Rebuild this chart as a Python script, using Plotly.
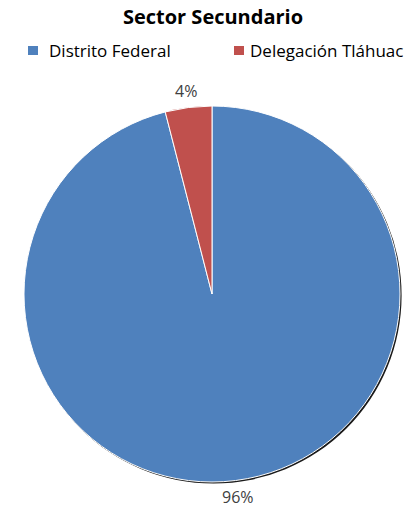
import math
import plotly.graph_objects as go

# Sector secundario: participación por entidad
labels = ["Distrito Federal", "Delegación Tláhuac"]
values = [96, 4]
colors = ["#4F81BD", "#C0504D"]

W, H = 410, 512
FONT = "Open Sans, Lato, sans-serif"

# pie box in pixels (left, top, right, bottom)
PX0, PY0, PX1, PY1 = 24, 106, 400, 482
CX, CY = (PX0 + PX1) / 2, (PY0 + PY1) / 2
LABEL_DIST = 205  # distance of the percentage labels from the centre, px

fig = go.Figure()

# thin dark rim under the pie (shadow on the lower-right edge)
fig.add_trace(go.Pie(
    labels=labels, values=[sum(values)], sort=False,
    marker=dict(colors=["#1a1a1a"], line=dict(width=0)),
    textinfo="none", hoverinfo="skip", showlegend=False,
    domain=dict(x=[(PX0 + 1.5) / W, (PX1 + 1.5) / W],
                y=[1 - (PY1 + 1.5) / H, 1 - (PY0 + 1.5) / H]),
))

fig.add_trace(go.Pie(
    labels=labels, values=values, sort=False,
    direction="clockwise", rotation=0,
    marker=dict(colors=colors, line=dict(color="white", width=1)),
    textinfo="none", showlegend=False,
    domain=dict(x=[PX0 / W, PX1 / W], y=[1 - PY1 / H, 1 - PY0 / H]),
    hoverinfo="label+percent",
))

# percentage labels placed radially outside each slice
total = sum(values)
start = 0.0
for val in values:
    mid = (start + val / 2) / total * 2 * math.pi  # clockwise from 12 o'clock
    start += val
    x = CX + LABEL_DIST * math.sin(mid)
    y = CY - LABEL_DIST * math.cos(mid)
    fig.add_annotation(
        x=x / W, y=1 - y / H, xref="paper", yref="paper",
        text=f"{round(100 * val / total)}%", showarrow=False,
        xanchor="center", yanchor="middle",
        font=dict(family=FONT, size=16, color="#404040"),
    )

# legend row: colour square + label for each category
legend_items = [(28, 47), (234, 248)]  # (square left, text left) in px
for (sq_x, tx_x), lab, col in zip(legend_items, labels, colors):
    fig.add_shape(type="rect", xref="paper", yref="paper",
                  x0=sq_x / W, x1=(sq_x + 10) / W,
                  y0=1 - 55 / H, y1=1 - 46 / H,
                  fillcolor=col, line=dict(width=0))
    fig.add_annotation(x=tx_x / W, y=1 - 50.5 / H, xref="paper", yref="paper",
                       text=lab, showarrow=False, xanchor="left", yanchor="middle",
                       font=dict(family=FONT, size=17, color="#000000"))

fig.update_layout(
    width=W, height=H,
    margin=dict(l=0, r=0, t=0, b=0),
    paper_bgcolor="white", plot_bgcolor="white",
    title=dict(text="<b>Sector Secundario</b>", x=213 / W, xanchor="center",
               y=1 - 17 / H, yanchor="middle",
               font=dict(family=FONT, size=20, color="#000000")),
    showlegend=False,
)

fig.write_html("out.html")
